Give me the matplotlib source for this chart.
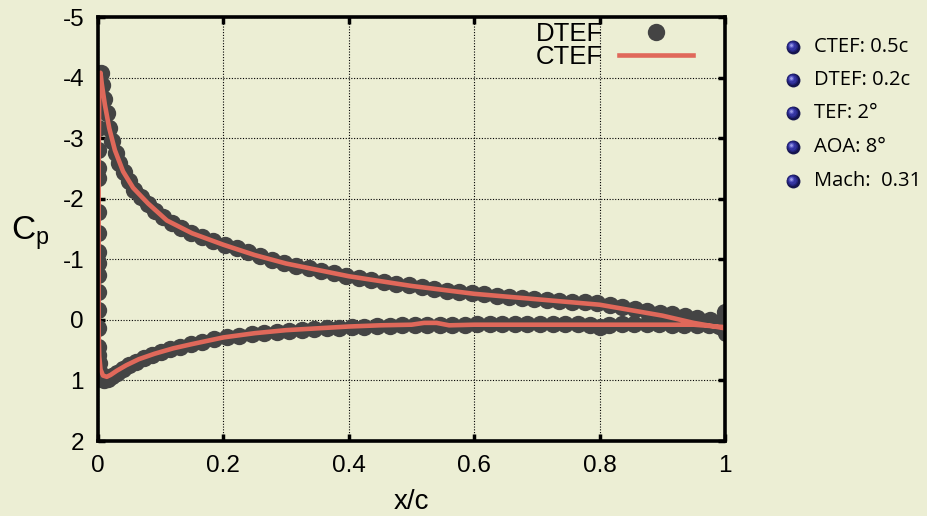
import matplotlib
matplotlib.use("Agg")
import matplotlib.pyplot as plt

plt.rcParams['font.family'] = ['Liberation Sans', 'DejaVu Sans']
plt.rcParams['mathtext.fontset'] = 'custom'
plt.rcParams['mathtext.rm'] = 'Liberation Sans'
plt.rcParams['mathtext.it'] = 'Liberation Sans'
plt.rcParams['axes.unicode_minus'] = False

# DTEF pressure coefficient, upper surface
dtef_xu = [0.004, 0.007, 0.010, 0.014, 0.018, 0.023, 0.028, 0.034, 0.041, 0.049,
           0.058, 0.068, 0.079, 0.091, 0.104, 0.118, 0.133, 0.149, 0.166, 0.184,
           0.202, 0.221, 0.240, 0.259, 0.278, 0.297, 0.316, 0.336, 0.356, 0.376,
           0.396, 0.416, 0.436, 0.456, 0.476, 0.496, 0.516, 0.536, 0.556, 0.576,
           0.596, 0.616, 0.636, 0.656, 0.676, 0.696, 0.716, 0.736, 0.756, 0.776,
           0.796, 0.816, 0.836, 0.856, 0.876, 0.896, 0.916, 0.936, 0.956, 0.976, 0.994]
dtef_cpu = [-4.08, -3.88, -3.65, -3.42, -3.16, -2.95, -2.76, -2.59, -2.44, -2.29,
            -2.15, -2.03, -1.91, -1.80, -1.69, -1.60, -1.51, -1.43, -1.36, -1.30,
            -1.24, -1.18, -1.12, -1.05, -0.99, -0.94, -0.89, -0.85, -0.81, -0.77,
            -0.73, -0.69, -0.66, -0.63, -0.60, -0.57, -0.54, -0.51, -0.48, -0.46,
            -0.44, -0.42, -0.40, -0.38, -0.36, -0.34, -0.33, -0.31, -0.30, -0.29,
            -0.28, -0.24, -0.21, -0.18, -0.15, -0.12, -0.09, -0.06, -0.03, 0.00, 0.04]

# DTEF points clustered on the leading edge
dtef_xle = [0.000, 0.000, 0.000, 0.000, 0.000, 0.000, 0.000, 0.000, 0.000,
            0.000, 0.000, 0.000, 0.000, 0.000, 0.000, 0.000, 0.001, 0.001]
dtef_cple = [-3.96, -3.63, -3.17, -2.80, -2.50, -2.34, -1.78, -1.43, -1.12,
             -0.94, -0.74, -0.46, -0.17, 0.13, 0.45, 0.58, 0.71, 0.85]

# DTEF lower surface
dtef_xl = [0.003, 0.006, 0.010, 0.016, 0.023, 0.031, 0.040, 0.050, 0.061, 0.073,
           0.086, 0.100, 0.115, 0.131, 0.148, 0.166, 0.185, 0.205, 0.225, 0.245,
           0.265, 0.285, 0.305, 0.325, 0.345, 0.365, 0.385, 0.405, 0.425, 0.445,
           0.465, 0.485, 0.505, 0.525, 0.545, 0.565, 0.585, 0.605, 0.625, 0.645,
           0.665, 0.685, 0.705, 0.725, 0.745, 0.765, 0.785, 0.800, 0.815, 0.835,
           0.855, 0.875, 0.895, 0.915, 0.935, 0.955, 0.975, 0.990]
dtef_cpl = [0.90, 0.97, 1.00, 0.98, 0.93, 0.87, 0.81, 0.75, 0.69, 0.63,
            0.58, 0.53, 0.48, 0.44, 0.40, 0.36, 0.32, 0.29, 0.26, 0.24,
            0.22, 0.20, 0.18, 0.16, 0.15, 0.14, 0.13, 0.12, 0.11, 0.10,
            0.10, 0.09, 0.09, 0.08, 0.08, 0.08, 0.08, 0.07, 0.07, 0.07,
            0.07, 0.07, 0.07, 0.07, 0.07, 0.07, 0.08, 0.12, 0.08, 0.07,
            0.07, 0.07, 0.07, 0.08, 0.08, 0.08, 0.09, 0.10]

# DTEF trailing edge points
dtef_xte = [1.000, 1.000, 1.002]
dtef_cpte = [-0.13, 0.05, 0.22]

# CTEF: one path from trailing edge over the upper surface, down the nose, back along the lower surface
ctef_x = [1.000, 0.950, 0.900, 0.800, 0.700, 0.600, 0.500, 0.400, 0.300, 0.250,
          0.200, 0.150, 0.110, 0.080, 0.056, 0.040, 0.027, 0.018, 0.011, 0.006,
          0.004, 0.002, 0.001, 0.001, 0.001, 0.002, 0.004, 0.008, 0.014, 0.020,
          0.030, 0.045, 0.065, 0.090, 0.120, 0.150, 0.200, 0.250, 0.300, 0.350,
          0.400, 0.450, 0.500, 0.520, 0.540, 0.560, 0.600, 0.700, 0.800, 0.900,
          0.950, 1.000]
ctef_cp = [0.14, 0.05, -0.07, -0.25, -0.34, -0.43, -0.56, -0.72, -0.93, -1.07,
           -1.24, -1.43, -1.64, -1.92, -2.18, -2.45, -2.80, -3.16, -3.55, -3.90,
           -4.08, -3.80, -2.50, -1.00, 0.20, 0.60, 0.82, 0.92, 0.94, 0.91,
           0.84, 0.75, 0.65, 0.56, 0.47, 0.40, 0.29, 0.22, 0.17, 0.14,
           0.11, 0.09, 0.08, 0.05, 0.05, 0.09, 0.08, 0.08, 0.08, 0.08,
           0.08, 0.12]

# case parameters listed beside the plot
params = ['CTEF: 0.5c', 'DTEF: 0.2c', 'TEF: 2°', 'AOA: 8°', 'Mach:  0.31']

bg = '#eceed4'
gray = '#444444'
red = '#e0685a'

fig = plt.figure(figsize=(9.27, 5.16), dpi=100, facecolor=bg)
ax = fig.add_axes([98 / 927, 1 - 441 / 516, 627 / 927, 424 / 516])
ax.set_facecolor(bg)

ms = 12.5
ax.plot(dtef_xu, dtef_cpu, 'o', color=gray, ms=ms, mec='none', label='DTEF', zorder=3)
ax.plot(dtef_xle, dtef_cple, 'o', color=gray, ms=ms, mec='none', zorder=3)
ax.plot(dtef_xl, dtef_cpl, 'o', color=gray, ms=ms, mec='none', zorder=3)
ax.plot(dtef_xte, dtef_cpte, 'o', color=gray, ms=ms, mec='none', zorder=3)
ax.plot(ctef_x, ctef_cp, '-', color=red, lw=3.3, label='CTEF', zorder=4,
        solid_joinstyle='round')

ax.set_xlim(0, 1)
ax.set_ylim(2, -5)
ax.set_xticks([0, 0.2, 0.4, 0.6, 0.8, 1])
ax.set_xticklabels(['0', '0.2', '0.4', '0.6', '0.8', '1'])
ax.set_yticks(range(-5, 3))
ax.grid(True, color='black', linestyle=(0, (1, 1.5)), linewidth=0.8)
ax.tick_params(direction='in', length=5, width=2.5, labelsize=17.5,
               top=True, right=True, pad=10)
for s in ax.spines.values():
    s.set_linewidth(2.6)
    s.set_zorder(5)

ax.set_xlabel('x/c', fontsize=20, va='center')
ax.xaxis.set_label_coords(0.5, -0.145)
ax.set_ylabel(r'$\mathrm{C_p}$', fontsize=24, rotation=0, ha='center', va='center')
ax.yaxis.set_label_coords(-0.108, 0.49)

leg = ax.legend(loc='upper right', bbox_to_anchor=(0.978, 1.03), frameon=False,
                markerfirst=False, fontsize=18.5, handlelength=2.9, labelspacing=-0.05,
                handletextpad=0.6, borderpad=0.2, numpoints=1)

# bullet list in pixel coordinates
ov = fig.add_axes([0, 0, 1, 1])
ov.set_xlim(0, 927)
ov.set_ylim(516, 0)
ov.axis('off')
ov.patch.set_alpha(0)
ys = [47, 80, 113, 147, 181]
for y, t in zip(ys, params):
    for frac, col, off in [(1.0, '#15154f', 0.0), (0.8, '#23237c', -0.6),
                           (0.6, '#3434a0', -1.2), (0.4, '#5656c2', -1.8),
                           (0.2, '#9a9ae6', -2.3)]:
        ov.scatter([793 + off], [y + off], s=(10 * frac) ** 2, color=col,
                   linewidths=0, zorder=3)
    ov.text(814, y, t, fontsize=14.5, family=['Open Sans', 'DejaVu Sans'],
            va='center', ha='left')

fig.savefig('out.png', dpi=100, facecolor=bg)
